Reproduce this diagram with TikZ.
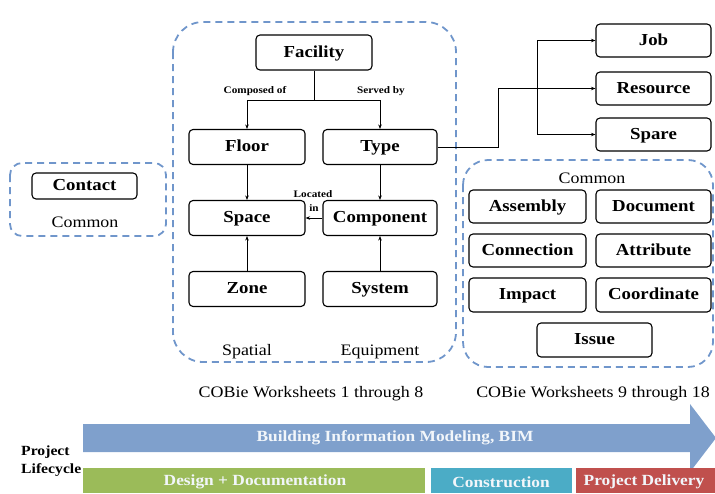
\documentclass[tikz,border=0pt]{standalone}
\usepackage{fontspec}
\setmainfont{Liberation Serif}[FakeStretch=1.12]
\usetikzlibrary{arrows.meta}
\definecolor{dashblue}{RGB}{112,150,203}
\definecolor{bimblue}{RGB}{127,160,204}
\definecolor{dgreen}{RGB}{155,187,89}
\definecolor{cteal}{RGB}{75,172,198}
\definecolor{pred}{RGB}{192,80,77}
\tikzset{
  box/.style={draw, rounded corners=4pt, line width=1.1pt, inner sep=0pt,
    minimum width=116pt, minimum height=35pt, text height=11.5pt, text depth=2.5pt,
    font=\bfseries\fontsize{16.8}{18}\selectfont},
  sbox/.style={box, minimum height=33pt},
  grp/.style={draw=dashblue, line width=1.8pt, dash pattern=on 7pt off 5pt},
  arr/.style={line width=0.9pt, -{Stealth[length=4.5pt,width=3.5pt]}},
  ln/.style={line width=0.9pt},
  tinylbl/.style={font=\bfseries\fontsize{10}{11}\selectfont, inner sep=0pt},
  captxt/.style={font=\fontsize{16}{18}\selectfont, inner sep=0pt},
  bartxt/.style={font=\bfseries\fontsize{15.5}{17}\selectfont, text=white!90!bimblue, inner sep=0pt}
}
\begin{document}
\begin{tikzpicture}[x=1pt,y=-1pt]
\useasboundingbox (0,0) rectangle (715,493);
% dashed groups
\draw[grp, rounded corners=12pt] (10,163) rectangle (166,236);
\draw[grp, rounded corners=30pt] (173,22) rectangle (456,362);
\draw[grp, rounded corners=25pt] (463,160) rectangle (713,367);
% left group
\node[box, minimum width=105pt, minimum height=26pt] (contact) at (84.5,186) {Contact};
\node[captxt] (common1) at (85,222) {Common};
% middle group
\node[box] (facility) at (314,52.5) {Facility};
\node[box] (floor) at (247,147) {Floor};
\node[box, minimum width=114pt] (type) at (380,147) {Type};
\node[box] (space) at (247,218) {Space};
\node[box, minimum width=114pt] (component) at (380,218) {Component};
\node[box] (zone) at (247,289) {Zone};
\node[box, minimum width=114pt] (system) at (380,289) {System};
\node[tinylbl] (composed) at (255,91) {Composed of};
\node[tinylbl] (served) at (381,91) {Served by};
\node[tinylbl] (located) at (313,194) {Located};
\node[tinylbl] (in) at (314,208) {in};
\node[captxt] (spatial) at (247,352) {Spatial};
\node[captxt] (equip) at (380,352) {Equipment};
\coordinate (fj) at (314,100);
\draw[ln] (facility.south) -- (fj);
\draw[arr] (fj) -| (floor.north);
\draw[arr] (fj) -| (type.north);
\draw[arr] (floor.south) -- (space.north);
\draw[arr] (type.south) -- (component.north);
\draw[arr] (zone.north) -- (space.south);
\draw[arr] (system.north) -- (component.south);
\draw[arr] (component.west) -- (space.east);
% right top
\node[sbox, minimum width=115pt] (job) at (653.5,40.5) {Job};
\node[sbox, minimum width=115pt] (resource) at (653.5,88.5) {Resource};
\node[sbox, minimum width=115pt] (spare) at (653.5,134.5) {Spare};
\coordinate (bend) at (498,88.5);
\coordinate (br) at (537,88.5);
\draw[arr] (type.east) -| (bend) -- (resource.west);
\draw[arr] (br) |- (job.west);
\draw[arr] (br) |- (spare.west);
% right common group
\node[captxt] (common2) at (592,178) {Common};
\node[sbox, minimum width=117pt] (assembly) at (527.5,206.5) {Assembly};
\node[sbox, minimum width=115pt] (document) at (653.5,206.5) {Document};
\node[sbox, minimum width=117pt] (connection) at (527.5,250.5) {Connection};
\node[sbox, minimum width=115pt] (attribute) at (653.5,250.5) {Attribute};
\node[sbox, minimum width=117pt, minimum height=34pt] (impact) at (527.5,295) {Impact};
\node[sbox, minimum width=115pt, minimum height=34pt] (coordinate) at (653.5,295) {Coordinate};
\node[sbox, minimum width=115pt, minimum height=34pt] (issue) at (594.5,340) {Issue};
% worksheets captions
\node[captxt] (ws1) at (311,394) {COBie Worksheets 1 through 8};
\node[captxt] (ws2) at (593,394) {COBie Worksheets 9 through 18};
% BIM arrow
\fill[bimblue] (83,424) -- (690,424) -- (690,404) -- (716,438) -- (690,472) -- (690,452) -- (83,452) -- cycle;
\node[bartxt] (bim) at (395,438) {Building Information Modeling, BIM};
% lifecycle bars
\fill[dgreen] (83,468) rectangle (425,493);
\fill[cteal] (431,468) rectangle (572,493);
\fill[pred] (576,468) rectangle (715,493);
\node[bartxt] (design) at (255,482) {Design + Documentation};
\node[bartxt] (constr) at (501,482) {Construction};
\node[bartxt] (deliv) at (644,482) {Project Delivery};
\node[font=\bfseries\fontsize{14}{18}\selectfont, align=left, inner sep=0pt, anchor=west] (life) at (21,461) {Project\\Lifecycle};
\end{tikzpicture}
\end{document}
